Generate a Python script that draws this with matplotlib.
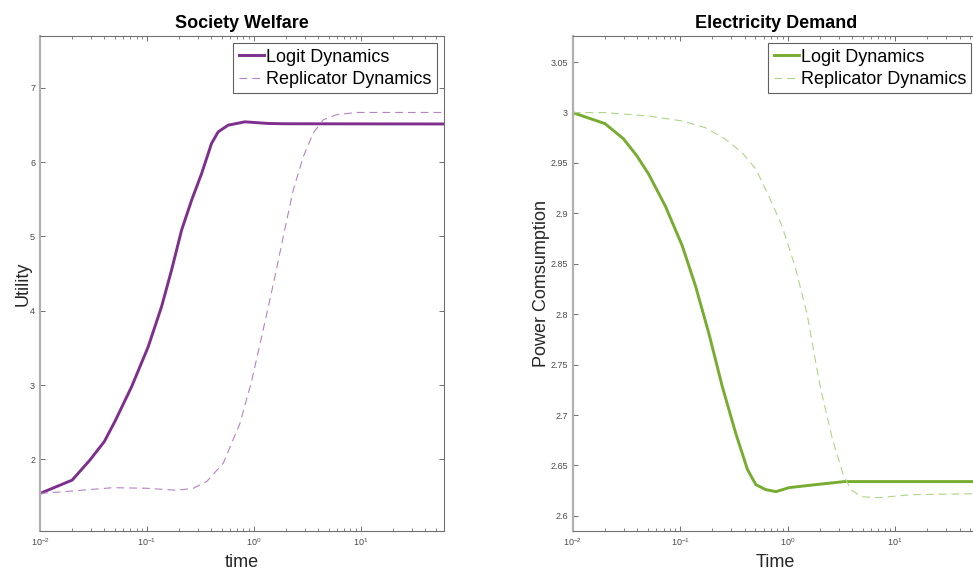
import matplotlib.pyplot as plt
from matplotlib.ticker import FormatStrFormatter, LogLocator

plt.rcParams['font.family'] = ['Liberation Sans', 'DejaVu Sans']
plt.rcParams['axes.unicode_minus'] = False

# Society welfare (utility) over time
welfare_logit_t = [0.01, 0.02, 0.0293, 0.04, 0.0502, 0.0719, 0.1028, 0.137, 0.170,
                   0.211, 0.262, 0.325, 0.402, 0.464, 0.575, 0.824, 1.36, 1.95, 60]
welfare_logit_u = [1.54, 1.72, 1.99, 2.24, 2.51, 2.977, 3.515, 4.054, 4.548,
                   5.086, 5.49, 5.849, 6.253, 6.409, 6.499, 6.544, 6.522, 6.518, 6.515]

welfare_repl_t = [0.01, 0.02, 0.048, 0.099, 0.19, 0.271, 0.362, 0.517, 0.74, 0.952,
                  1.27, 1.57, 1.95, 2.33, 2.89, 3.58, 4.44, 5.93, 9.12, 60]
welfare_repl_u = [1.54, 1.573, 1.618, 1.61, 1.583, 1.61, 1.70, 1.946, 2.48, 3.05,
                  3.85, 4.45, 5.10, 5.62, 6.07, 6.39, 6.57, 6.64, 6.67, 6.67]

# Electricity demand (power consumption) over time
demand_logit_t = [0.01, 0.02, 0.0297, 0.0396, 0.0509, 0.073, 0.1045, 0.139, 0.185,
                  0.247, 0.329, 0.423, 0.506, 0.627, 0.778, 1.035, 1.84, 3.38, 60]
demand_logit_p = [3.0, 2.989, 2.974, 2.957, 2.939, 2.907, 2.868, 2.828, 2.781,
                  2.728, 2.682, 2.646, 2.631, 2.626, 2.624, 2.628, 2.631, 2.634, 2.634]

demand_repl_t = [0.01, 0.02, 0.051, 0.1045, 0.172, 0.265, 0.379, 0.506, 0.67, 0.89,
                 1.17, 1.52, 1.83, 2.04, 2.63, 3.27, 3.88, 4.86, 6.96, 14.3, 60]
demand_repl_p = [3.0, 3.0, 2.9966, 2.9917, 2.985, 2.9735, 2.96, 2.944, 2.917, 2.887,
                 2.848, 2.80, 2.752, 2.725, 2.675, 2.642, 2.626, 2.619, 2.618, 2.621, 2.622]

fig = plt.figure(figsize=(9.73, 5.71), dpi=100)
ax1 = fig.add_axes([0.0411, 0.0701, 0.4152, 0.8669])
# the right panel runs slightly past the figure edge
ax2 = fig.add_axes([0.5886, 0.0701, 0.4172, 0.8669])


def style_axes(ax):
    ax.set_xscale('log')
    ax.set_xlim(0.01, 60)
    ax.xaxis.set_major_locator(LogLocator(base=10, numticks=10))
    ax.xaxis.set_minor_locator(LogLocator(base=10, subs=range(2, 10), numticks=20))
    ax.tick_params(which='both', direction='in', top=True, right=True,
                   colors='#707070', labelcolor='#4a4a4a', labelsize=6.5)
    ax.tick_params(which='major', length=3.5, width=0.7)
    ax.tick_params(which='minor', length=2, width=0.6)
    for side in ['top', 'right', 'bottom']:
        ax.spines[side].set_color('#707070')
        ax.spines[side].set_linewidth(0.8)
    ax.spines['left'].set_color('#b0b0b0')
    ax.spines['left'].set_linewidth(1.6)


def add_legend(ax):
    leg = ax.legend(loc='upper right', fontsize=13, frameon=True, fancybox=False,
                    handlelength=1.4, handletextpad=0.1, borderpad=0.3,
                    labelspacing=0.3, borderaxespad=0.4)
    leg.get_frame().set_edgecolor('#606060')
    leg.get_frame().set_linewidth(0.8)
    leg.get_frame().set_alpha(1)


# left panel
ax1.plot(welfare_logit_t, welfare_logit_u, color='#7E2F8E', lw=2.1, label='Logit Dynamics')
ax1.plot(welfare_repl_t, welfare_repl_u, color='#b583c4', lw=0.8,
         linestyle=(0, (7, 4.5)), label='Replicator Dynamics')
style_axes(ax1)
ax1.set_ylim(1.035, 7.7)
ax1.set_yticks([2, 3, 4, 5, 6, 7])
ax1.set_title('Society Welfare', fontsize=13, fontweight='bold', pad=6)
ax1.set_xlabel('time', fontsize=13, color='#262626', labelpad=5)
ax1.set_ylabel('Utility', fontsize=13, color='#262626', labelpad=-1)
add_legend(ax1)

# right panel
ax2.plot(demand_logit_t, demand_logit_p, color='#77AC30', lw=2.1, label='Logit Dynamics')
ax2.plot(demand_repl_t, demand_repl_p, color='#aed488', lw=0.8,
         linestyle=(0, (7, 4.5)), label='Replicator Dynamics')
style_axes(ax2)
ax2.set_ylim(2.585, 3.076)
ax2.set_yticks([2.6, 2.65, 2.7, 2.75, 2.8, 2.85, 2.9, 2.95, 3.0, 3.05])
ax2.yaxis.set_major_formatter(FormatStrFormatter('%g'))
ax2.set_title('Electricity Demand', fontsize=13, fontweight='bold', pad=6)
ax2.set_xlabel('Time', fontsize=13, color='#262626', labelpad=5)
ax2.set_ylabel('Power Comsumption', fontsize=13, color='#262626', labelpad=0)
add_legend(ax2)

fig.savefig('out.png', dpi=100)
